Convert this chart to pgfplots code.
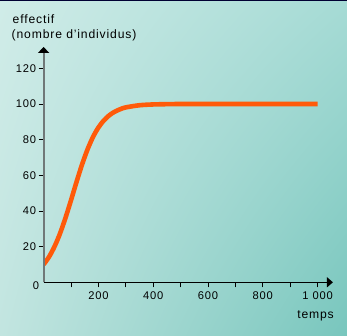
\documentclass[border=0pt]{standalone}
\usepackage{pgfplots}
\pgfplotsset{compat=1.18}
\usepackage{fontspec}
\setmainfont{Liberation Sans}
\newfontfamily\spaced[LetterSpace=7]{Liberation Sans}
\usetikzlibrary{arrows.meta,shadings}
\definecolor{bgul}{HTML}{D0ECE8}
\definecolor{bgur}{HTML}{A6DBD5}
\definecolor{bgll}{HTML}{C2E5E0}
\definecolor{bglr}{HTML}{78C6BD}
\definecolor{curve}{HTML}{FF5A0A}
\definecolor{yaxis}{HTML}{707878}
\begin{document}
\begin{tikzpicture}[x=1bp,y=1bp]
\shade[upper left=bgul, upper right=bgur, lower left=bgll, lower right=bglr] (0,0) rectangle (347,336);
\fill[black!80!blue] (0,334.8) rectangle (347,336);
\begin{axis}[
  at={(43.6bp,53.7bp)}, anchor=origin,
  x=0.274bp, y=1.783bp,
  xmin=0, xmax=1056, ymin=0, ymax=132,
  axis lines=left,
  axis on top=true,
  x axis line style={black, line width=1.3bp, -{Triangle[length=6bp,width=10bp]}},
  y axis line style={yaxis, line width=2bp, -{Triangle[length=6bp,width=11bp,color=black]}},
  tick align=outside,
  major tick length=5bp,
  xtick={100,200,...,1000},
  xticklabels={,200,,400,,600,,800,,1 000},
  ytick={20,40,...,120},
  tick style={black, line width=0.8bp},
  /pgf/number format/assume math mode=true,
  tick label style={font=\spaced\fontsize{11.2}{13}\selectfont},
  yticklabel style={xshift=1bp},
  xticklabel style={yshift=-1bp},
]
\addplot[curve, line width=4.6bp, smooth] coordinates {
(0,10) (20,14.3) (40,20.1) (60,27.4) (80,36.2) (100,46.0) (120,56.2) (140,65.9)
(160,74.4) (180,81.4) (200,86.8) (220,90.8) (240,93.7) (260,95.7) (280,97.1)
(300,98.1) (350,99.3) (400,99.75) (450,99.9) (500,100) (600,100) (700,100)
(800,100) (900,100) (1000,100)
};
\end{axis}
\node[anchor=center, font=\spaced\fontsize{11.2}{13}\selectfont] at (36,50.5) {0};
\node[anchor=base west, inner sep=0pt, font=\spaced\fontsize{12.2}{14}\selectfont] at (12.5,313) {effectif};
\node[anchor=base west, inner sep=0pt, font=\spaced\fontsize{12.2}{14}\selectfont] at (11.5,298) {(nombre d’individus)};
\node[anchor=base east, inner sep=0pt, font=\spaced\fontsize{12.2}{14}\selectfont] at (334,18) {temps};
\pgfresetboundingbox
\useasboundingbox (0,0) rectangle (347,336);
\end{tikzpicture}
\end{document}
